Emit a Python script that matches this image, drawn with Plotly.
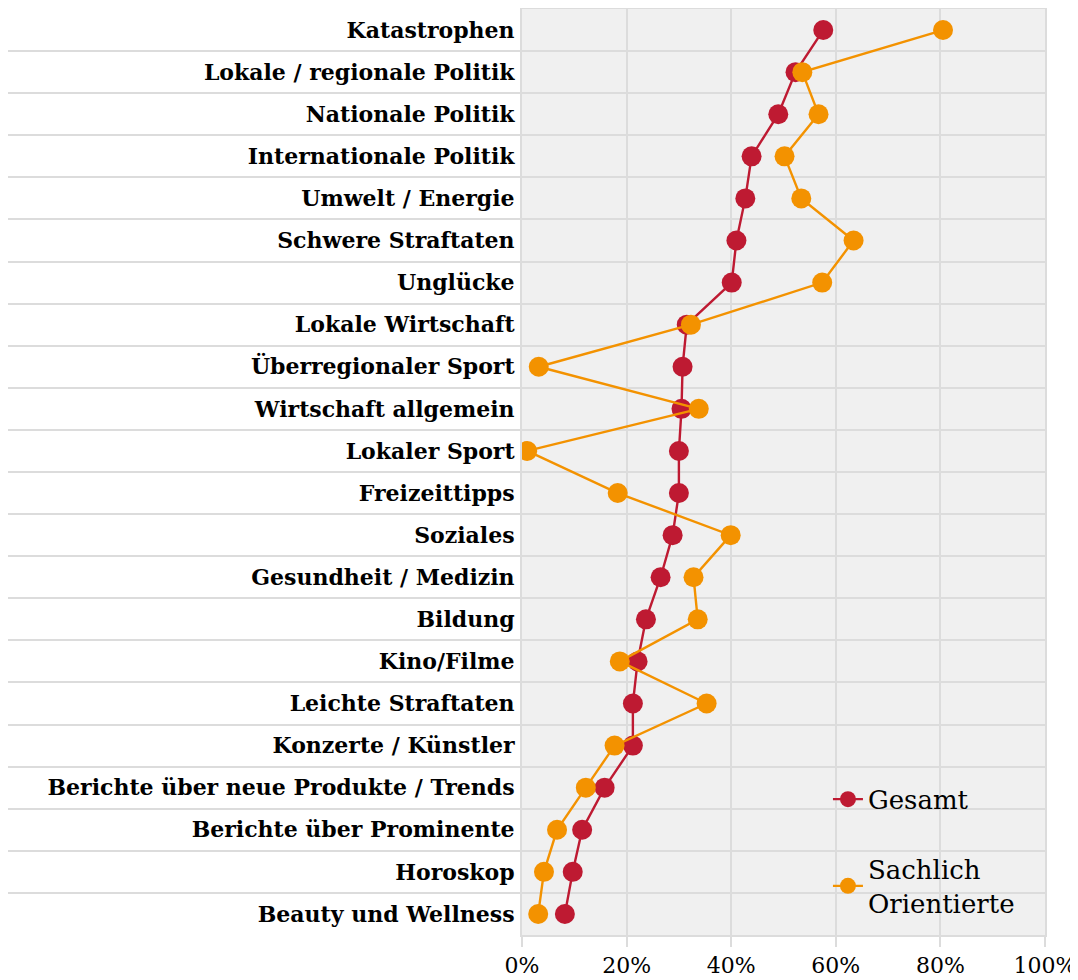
import plotly.graph_objects as go

categories = [
    "Katastrophen",
    "Lokale / regionale Politik",
    "Nationale Politik",
    "Internationale Politik",
    "Umwelt / Energie",
    "Schwere Straftaten",
    "Unglücke",
    "Lokale Wirtschaft",
    "Überregionaler Sport",
    "Wirtschaft allgemein",
    "Lokaler Sport",
    "Freizeittipps",
    "Soziales",
    "Gesundheit / Medizin",
    "Bildung",
    "Kino/Filme",
    "Leichte Straftaten",
    "Konzerte / Künstler",
    "Berichte über neue Produkte / Trends",
    "Berichte über Prominente",
    "Horoskop",
    "Beauty und Wellness",
]

gesamt = [57.6, 52.3, 49.0, 43.9, 42.7, 41.0, 40.1, 31.5, 30.7, 30.5, 30.0,
          30.0, 28.8, 26.5, 23.7, 22.1, 21.2, 21.2, 15.8, 11.5, 9.7, 8.2]
sachlich = [80.5, 53.6, 56.7, 50.2, 53.4, 63.4, 57.4, 32.3, 3.2, 33.8, 1.0,
            18.3, 39.9, 32.8, 33.6, 18.7, 35.3, 17.7, 12.2, 6.7, 4.2, 3.1]

x_ticks = [0, 20, 40, 60, 80, 100]
x_ticktext = ["0%", "20%", "40%", "60%", "80%", "100%"]

RED = "#be1a32"
ORANGE = "#f39200"
GRID = "#dcdcdc"

pos = list(range(len(categories)))
boundaries = [i + 0.5 for i in pos[:-1]]

fig = go.Figure()

fig.add_trace(go.Scatter(
    x=gesamt, y=pos, mode="lines+markers", name="Gesamt",
    line=dict(color=RED, width=2.4),
    marker=dict(color=RED, size=20),
    legendgroup="a",
))
fig.add_trace(go.Scatter(
    x=sachlich, y=pos, mode="lines+markers", name="Sachlich<br>Orientierte",
    line=dict(color=ORANGE, width=2.4),
    marker=dict(color=ORANGE, size=20),
    legendgroup="b",
))

# page body has an 8px margin, so the figure is a bit smaller than the window
fig.update_layout(
    width=1070, height=972,
    margin=dict(l=514, r=33, t=1, b=45),
    paper_bgcolor="white",
    plot_bgcolor="#f0f0f0",
    font=dict(family="DejaVu Serif", color="black"),
    showlegend=True,
    legend=dict(
        x=0.585, y=0.172, xanchor="left", yanchor="top",
        bgcolor="rgba(0,0,0,0)",
        font=dict(size=26, family="DejaVu Serif"),
        tracegroupgap=33,
    ),
    xaxis=dict(
        range=[0, 100],
        tickvals=x_ticks, ticktext=x_ticktext,
        showgrid=True, gridcolor=GRID, gridwidth=2,
        zeroline=False,
        ticks="outside", ticklen=10, tickcolor=GRID, tickwidth=2,
        tickfont=dict(size=22),
        showline=True, linecolor=GRID, linewidth=2, mirror=True,
        automargin=False,
    ),
    yaxis=dict(
        range=[len(categories) - 0.5, -0.5],
        tickvals=pos, ticktext=["<b>%s</b>" % c for c in categories],
        showgrid=False, zeroline=False,
        ticks="",
        ticklabelstandoff=1,
        tickfont=dict(size=22),
        showline=True, linecolor=GRID, linewidth=2, mirror=True,
        automargin=False,
        minor=dict(
            tickvals=boundaries,
            ticks="outside", ticklen=515, tickcolor=GRID, tickwidth=2,
            showgrid=True, gridcolor=GRID, gridwidth=2,
        ),
    ),
)

fig.write_html("out.html")
